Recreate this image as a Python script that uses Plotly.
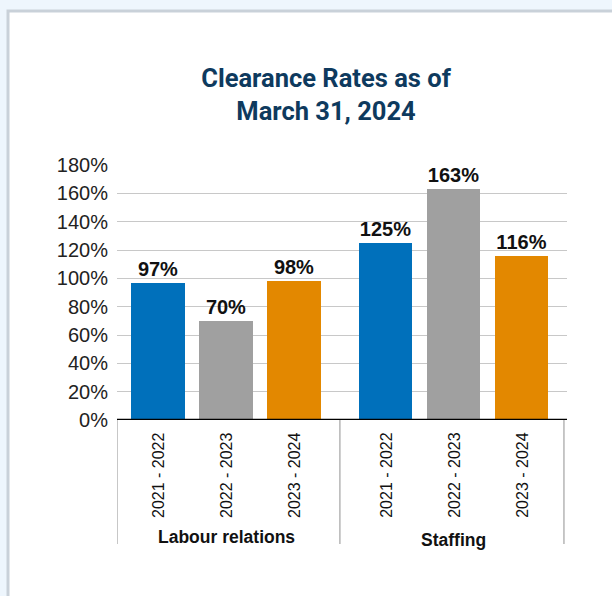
import plotly.graph_objects as go

groups = ["Labour relations", "Staffing"]
years = ["2021 - 2022", "2022 - 2023", "2023 - 2024"]
values = [[97, 70, 98], [125, 163, 116]]
colors = ["#0070bb", "#a0a0a0", "#e38800"]
y_ticks = [0, 20, 40, 60, 80, 100, 120, 140, 160, 180]

SANS = "Liberation Sans, Arial"
GAP = 0.35
fig = go.Figure()
for j, yr in enumerate(years):
    xs = [g * (3 + GAP) + j for g in range(len(groups))]
    ys = [values[g][j] for g in range(len(groups))]
    fig.add_trace(go.Bar(
        x=xs, y=ys, width=0.78, marker=dict(color=colors[j], line=dict(width=0)),
        text=[f"{v}%" for v in ys], textposition="outside", cliponaxis=False,
        textfont=dict(family=SANS, size=20, color="#111"),
        texttemplate="<b>%{text}</b>", showlegend=False, name=yr,
    ))

annotations = []
for g, grp in enumerate(groups):
    for j, yr in enumerate(years):
        annotations.append(dict(
            x=g * (3 + GAP) + j, y=0, xref="x", yref="paper", text=yr,
            textangle=-90, showarrow=False, xanchor="center", yanchor="top", yshift=-10,
            font=dict(family=SANS, size=16, color="#111"),
        ))
    annotations.append(dict(
        x=g * (3 + GAP) + 1, y=0, xref="x", yref="paper", text=f"<b>{grp}</b>",
        showarrow=False, xanchor="center", yanchor="top", yshift=-105 - 3 * g,
        font=dict(family=SANS, size=17.5, color="#111"),
    ))

xmin, xmax = -0.603, 6.015
seps = [xmin, 2 + GAP / 2 + 0.5, 5.97]
shapes = [
    dict(type="rect", xref="paper", yref="paper", x0=(8 - 117) / 450, x1=1.2, y0=1 + 154 / 255, y1=-1,
         line=dict(color="#c9d1d9", width=3), fillcolor="white", layer="below"),
]
for s in seps:
    shapes.append(dict(type="line", xref="x", yref="paper", x0=s, x1=s, y0=0, y1=-124 / 255,
                       line=dict(color="#b5b5b5", width=1.5)))
shapes.append(dict(type="line", xref="paper", yref="y", x0=0, x1=1, y0=0, y1=0,
                   line=dict(color="#000", width=2.5)))

fig.update_layout(
    width=612, height=596,
    margin=dict(l=117, r=45, t=165, b=176),
    paper_bgcolor="#eef6fd", plot_bgcolor="rgba(0,0,0,0)",
    title=dict(text="<b>Clearance Rates as of<br>March 31, 2024</b>", x=326 / 612, xanchor="center",
               y=1 - 87 / 596, yanchor="middle",
               font=dict(family="Roboto", size=25.5, color="#0e3a5e")),
    xaxis=dict(range=[xmin, xmax], showticklabels=False, showgrid=False, zeroline=False),
    yaxis=dict(range=[0, 180], tickvals=y_ticks, ticktext=[f"{v}%" for v in y_ticks],
               showgrid=True, gridcolor="#c8c8c8", gridwidth=1, zeroline=False,
               tickfont=dict(family=SANS, size=20, color="#222"), ticks="",
               ticklabelstandoff=8),
    annotations=annotations, shapes=shapes, bargap=0,
)
fig.write_html("out.html")
